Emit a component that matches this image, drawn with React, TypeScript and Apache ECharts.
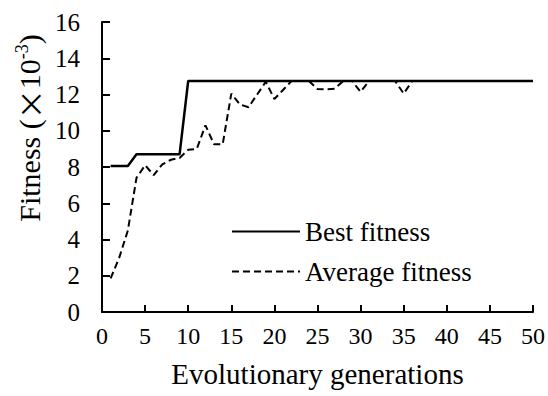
import React, { useEffect, useRef } from "react";
import * as echarts from "echarts";

const generations = [1,2,3,4,5,6,7,8,9,10,11,12,13,14,15,16,17,18,19,20,21,22,23,24,25,26,27,28,29,30,31,32,33,34,35,36,37,38,39,40,41,42,43,44,45,46,47,48,49,50];
const bestFitness = [8.05,8.05,8.05,8.7,8.7,8.7,8.7,8.7,8.7,12.75,12.75,12.75,12.75,12.75,12.75,12.75,12.75,12.75,12.75,12.75,12.75,12.75,12.75,12.75,12.75,12.75,12.75,12.75,12.75,12.75,12.75,12.75,12.75,12.75,12.75,12.75,12.75,12.75,12.75,12.75,12.75,12.75,12.75,12.75,12.75,12.75,12.75,12.75,12.75,12.75];
const avgFitness = [1.85,3.0,4.5,7.4,8.1,7.55,8.15,8.4,8.5,8.95,9.0,10.3,9.25,9.25,12.05,11.45,11.3,12.0,12.7,11.75,12.25,12.75,12.75,12.75,12.3,12.28,12.32,12.75,12.75,12.15,12.75,12.75,12.75,12.75,12.05,12.75,12.75,12.75,12.75,12.75,12.75,12.75,12.75,12.75,12.75,12.75,12.75,12.75,12.75,12.75];
const seriesNames = ["Best fitness", "Average fitness"];
const xName = "Evolutionary generations";

const FONT = "Liberation Serif";

export default function App() {
  const ref = useRef<HTMLDivElement>(null);
  useEffect(() => {
    if (!ref.current) return;
    const chart = echarts.init(ref.current, undefined, { renderer: "svg" });
    chart.setOption({
      animation: false,
      backgroundColor: "#ffffff",
      grid: { left: 102, right: 12, top: 22, bottom: 84 },
      xAxis: {
        type: "value",
        min: 0,
        max: 50,
        interval: 5,
        name: xName,
        nameLocation: "middle",
        nameGap: 47,
        nameTextStyle: { fontFamily: FONT, fontSize: 29, color: "#000" },
        axisLine: { lineStyle: { color: "#000", width: 2 } },
        axisTick: { inside: true, length: 7, lineStyle: { color: "#000", width: 2 } },
        axisLabel: { fontFamily: FONT, fontSize: 24, color: "#000", margin: 12 },
        splitLine: { show: false },
      },
      yAxis: {
        type: "value",
        min: 0,
        max: 16,
        interval: 2,
        axisLine: { show: true, lineStyle: { color: "#000", width: 2 } },
        axisTick: { show: true, inside: true, length: 8, lineStyle: { color: "#000", width: 2 } },
        axisLabel: { fontFamily: FONT, fontSize: 25, color: "#000", margin: 22 },
        splitLine: { show: false },
      },
      legend: {
        orient: "vertical",
        left: 226,
        top: 213,
        itemWidth: 68,
        itemHeight: 14,
        itemGap: 13,
        itemStyle: { opacity: 0 },
        textStyle: { fontFamily: FONT, fontSize: 27, color: "#000", lineHeight: 27 },
        data: seriesNames,
      },
      graphic: [
        {
          type: "text",
          x: 29,
          y: 128,
          rotation: Math.PI / 2,
          style: {
            text: "{a|Fitness (}{c|×}{a|10}{b|-3}{a|)}",
            align: "center",
            verticalAlign: "middle",
            rich: {
              a: { fontFamily: FONT, fontSize: 30, fill: "#000", lineHeight: 33 },
              c: { fontFamily: "Noto Sans CJK SC", fontSize: 30, fill: "#000", lineHeight: 33 },
              b: { fontFamily: FONT, fontSize: 18, fill: "#000", verticalAlign: "top", lineHeight: 33 },
            },
          },
        },
      ],
      series: [
        {
          name: seriesNames[0],
          type: "line",
          symbol: "none",
          data: generations.map((g, i) => [g, bestFitness[i]]),
          lineStyle: { color: "#000", width: 2.5, type: "solid" },
          itemStyle: { color: "#000" },
        },
        {
          name: seriesNames[1],
          type: "line",
          symbol: "none",
          data: generations.map((g, i) => [g, avgFitness[i]]),
          lineStyle: { color: "#000", width: 2, type: [7, 4] },
          itemStyle: { color: "#000" },
        },
      ],
    });
    return () => chart.dispose();
  }, []);
  return <div ref={ref} style={{ width: 548, height: 396, position: "absolute", left: 0, top: 0 }} />;
}
